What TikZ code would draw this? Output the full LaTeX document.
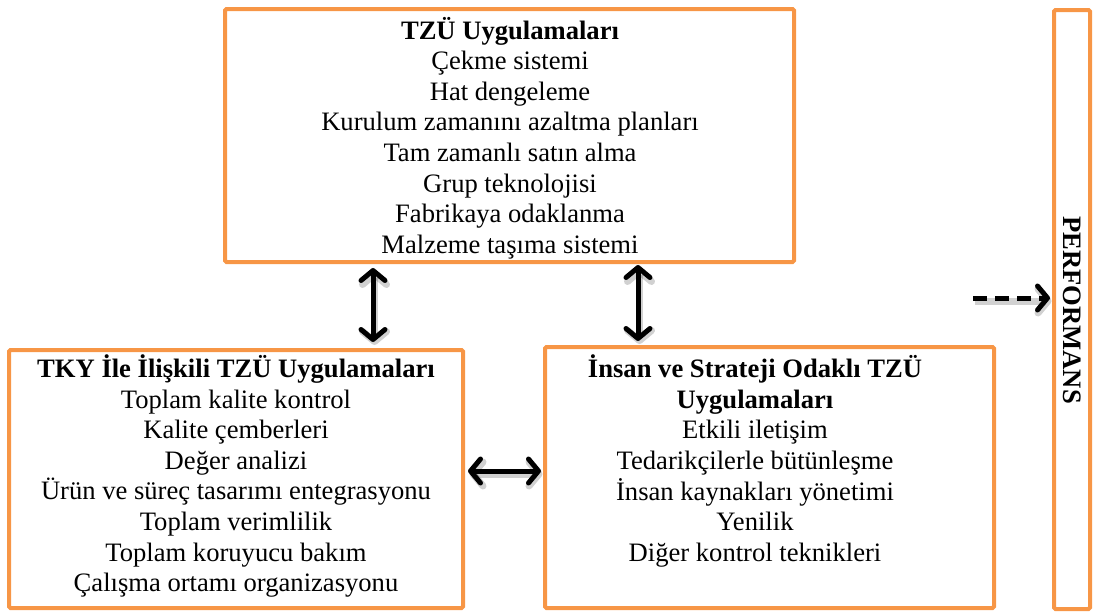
\documentclass[tikz,border=0pt]{standalone}
\usepackage{fontspec}
\setmainfont{Liberation Serif}
\usetikzlibrary{arrows.meta}
\definecolor{boxorange}{HTML}{F79646}
\begin{document}
\begin{tikzpicture}[x=1pt,y=-1pt,
  frame/.style={draw=boxorange, line width=4pt, rounded corners=1.5pt, inner sep=0pt},
  boxtext/.style={align=center, inner sep=0pt, font=\fontsize{26.6pt}{30.6pt}\selectfont},
  shadowed/.style={preaction={draw=black, opacity=0.18, line width=7pt,
      transform canvas={xshift=1.5pt,yshift=-3pt}}},
  barb/.tip={Straight Barb[length=10pt,width=24pt,line cap=round,line join=round]},
  link/.style={line width=5pt, barb-barb, shadowed},
  dashlink/.style={line width=5pt, dash pattern=on 14pt off 8pt, -barb, shadowed}]
  \useasboundingbox (0,0) rectangle (1094,613);

  % frames
  \node[frame, minimum width=569pt, minimum height=253pt] (top) at (509.5,135.5) {};
  \node[frame, minimum width=454pt, minimum height=258pt] (left) at (236,479) {};
  \node[frame, minimum width=449pt, minimum height=261pt] (right) at (769.5,477.5) {};
  \node[frame, minimum width=36pt, minimum height=599pt] (perf) at (1072,309.5) {};

  % texts
  \node[boxtext] (toptext) at (510,138) {\textbf{TZÜ Uygulamaları}\\
    Çekme sistemi\\ Hat dengeleme\\ Kurulum zamanını azaltma planları\\
    Tam zamanlı satın alma\\ Grup teknolojisi\\ Fabrikaya odaklanma\\
    Malzeme taşıma sistemi};
  \node[boxtext] (lefttext) at (236,476) {\textbf{TKY İle İlişkili TZÜ Uygulamaları}\\
    Toplam kalite kontrol\\ Kalite çemberleri\\ Değer analizi\\
    Ürün ve süreç tasarımı entegrasyonu\\ Toplam verimlilik\\
    Toplam koruyucu bakım\\ Çalışma ortamı organizasyonu};
  \node[boxtext] (righttext) at (755,461) {\textbf{İnsan ve Strateji Odaklı TZÜ}\\
    \textbf{Uygulamaları}\\ Etkili iletişim\\ Tedarikçilerle bütünleşme\\
    İnsan kaynakları yönetimi\\ Yenilik\\ Diğer kontrol teknikleri};
  \node[boxtext, rotate=-90, font=\fontsize{26.6pt}{30.6pt}\selectfont\bfseries] (perftext) at (1072,310) {PERFORMANS};

  % connectors
  \coordinate (lx) at (373,0);
  \coordinate (rx) at (638,0);
  \coordinate (dstart) at (973,298);
  \draw[link, shorten <=4pt, shorten >=6pt] (top.south -| lx) -- (left.north -| lx);
  \draw[link, shorten <=1pt, shorten >=4pt] (top.south -| rx) -- (right.north -| rx);
  \draw[link, shorten <=3pt, shorten >=2pt] (left.east |- 0,471) -- (right.west |- 0,471);
  \draw[dashlink, shorten >=2pt] (dstart) -- (perf.west |- dstart);
\end{tikzpicture}
\end{document}
